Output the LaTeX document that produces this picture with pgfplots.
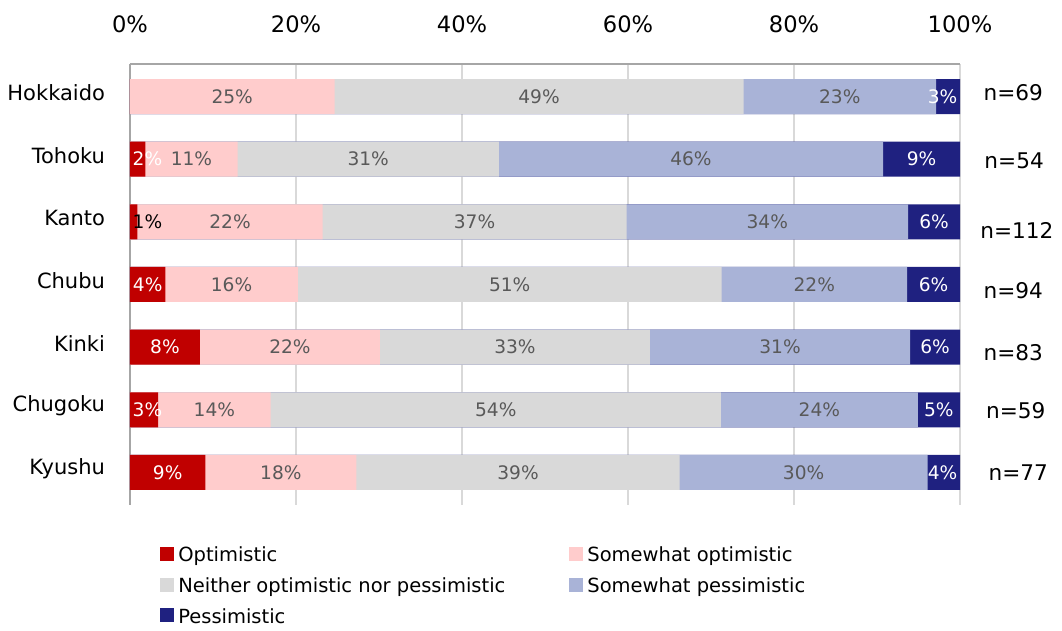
\documentclass[border=0pt]{standalone}
\usepackage{fontspec}
\setmainfont{DejaVu Sans}
\usepackage{pgfplots}
\usepackage{pgfplotstable}
\pgfplotsset{compat=1.18}

\definecolor{optred}{HTML}{C00000}
\definecolor{soptpink}{HTML}{FFCCCC}
\definecolor{neitgray}{HTML}{D9D9D9}
\definecolor{spesblue}{HTML}{A9B3D7}
\definecolor{pesnavy}{HTML}{1F2180}
\definecolor{labelgray}{HTML}{595959}
\definecolor{gridgray}{HTML}{D9D9D9}
\definecolor{axisgray}{HTML}{A6A6A6}

% Share of respondents (%) by region; n = number of respondents
% nx, ny: placement of the "n=" note to the right of each bar
\pgfplotstableread{
y region   opt   sopt  neit  spes  pes   n   nx     ny
6 Hokkaido 0.00  24.64 49.28 23.19 2.89  69  102.8   0.07
5 Tohoku   1.85  11.11 31.48 46.30 9.26  54  102.9  -0.03
4 Kanto    0.89  22.32 36.61 33.93 6.25  112 102.4  -0.13
3 Chubu    4.26  15.96 51.06 22.34 6.38  94  102.8  -0.10
2 Kinki    8.43  21.69 32.53 31.33 6.02  83  102.8  -0.08
1 Chugoku  3.39  13.56 54.24 23.73 5.08  59  103.1  -0.02
0 Kyushu   9.09  18.18 38.96 29.87 3.90  77  103.4   0.00
}\regions

\pgfplotsset{
  % each segment is drawn as a bar from 0 to its running total, back to front
  seg/.style={xbar, bar shift=0pt, fill=#1, draw=none},
  seglabel/.style={only marks, mark=none, forget plot,
    point meta=explicit,
    nodes near coords={\pgfmathprintnumber[fixed,precision=0]{\pgfplotspointmeta}\%},
    every node near coord/.append style={anchor=center, inner sep=0pt,
      font=\fontsize{9.3}{11}\selectfont, text=#1}},
}

\begin{document}
\begin{tikzpicture}
\begin{axis}[
  name=ax,
  scale only axis, width=415pt, height=220.5pt,
  bar width=17.5pt,
  xmin=0, xmax=100, ymin=-0.52, ymax=6.52,
  clip=false,
  axis x line*=top, axis y line*=left,
  x axis line style={draw=axisgray, line width=0.8pt},
  y axis line style={draw=axisgray, line width=0.8pt},
  xmajorgrids, grid style={draw=gridgray, line width=0.8pt},
  xtick={0,20,...,100},
  xticklabel={\pgfmathprintnumber{\tick}\%},
  xtick style={draw=none}, ytick style={draw=none},
  ytick={0,...,6},
  yticklabels={Kyushu,Chugoku,Kinki,Chubu,Kanto,Tohoku,Hokkaido},
  /pgf/number format/assume math mode=true,
  xticklabel style={font=\fontsize{11.3}{13}\selectfont, yshift=12pt},
  yticklabel style={font=\fontsize{10.5}{12}\selectfont, xshift=-9pt, yshift=2pt},
  legend columns=2,
  reverse legend,
  legend cell align=left,
  legend image code/.code={\fill[#1] (0pt,-2.5pt) rectangle (7pt,4.5pt);},
  legend style={draw=none, fill=none, at={(0.036,-0.085)}, anchor=north west,
    font=\fontsize{9.75}{11}\selectfont, inner sep=0pt, row sep=2.5pt,
    /tikz/every even column/.append style={column sep=30pt}},
]
\addplot[seg=pesnavy]
  table[x expr={\thisrow{opt}+\thisrow{sopt}+\thisrow{neit}+\thisrow{spes}+\thisrow{pes}}, y=y] {\regions};
\addlegendentry{Pessimistic}
\addplot[seg=spesblue]
  table[x expr={\thisrow{opt}+\thisrow{sopt}+\thisrow{neit}+\thisrow{spes}}, y=y] {\regions};
\addlegendentry{Somewhat pessimistic}
\addplot[seg=neitgray]
  table[x expr={\thisrow{opt}+\thisrow{sopt}+\thisrow{neit}}, y=y] {\regions};
\addlegendentry{Neither optimistic nor pessimistic}
\addplot[seg=soptpink]
  table[x expr={\thisrow{opt}+\thisrow{sopt}}, y=y] {\regions};
\addlegendentry{Somewhat optimistic}
\addplot[seg=optred]
  table[x=opt, y=y] {\regions};
\addlegendentry{Optimistic}

% value labels, centred in each segment
\addplot[seglabel=white, skip coords between index={0}{1}, skip coords between index={2}{3}]
  table[x expr={max(\thisrow{opt}/2,2.1)}, y=y, meta=opt] {\regions};
\addplot[seglabel=black, skip coords between index={0}{2}, skip coords between index={3}{7}]
  table[x expr={max(\thisrow{opt}/2,2.1)}, y=y, meta=opt] {\regions};
\addplot[seglabel=labelgray]
  table[x expr={\thisrow{opt}+\thisrow{sopt}/2}, y=y, meta=sopt] {\regions};
\addplot[seglabel=labelgray]
  table[x expr={\thisrow{opt}+\thisrow{sopt}+\thisrow{neit}/2}, y=y, meta=neit] {\regions};
\addplot[seglabel=labelgray]
  table[x expr={\thisrow{opt}+\thisrow{sopt}+\thisrow{neit}+\thisrow{spes}/2}, y=y, meta=spes] {\regions};
\addplot[seglabel=white]
  table[x expr={min(100-\thisrow{pes}/2,97.9)}, y=y, meta=pes] {\regions};

% sample sizes
\addplot[only marks, mark=none, forget plot,
  point meta=explicit symbolic,
  nodes near coords={n=\pgfplotspointmeta},
  every node near coord/.append style={anchor=west, inner xsep=0pt,
    font=\fontsize{10.8}{13}\selectfont, text=black}]
  table[x=nx, y expr={\thisrow{y}+\thisrow{ny}}, meta=n] {\regions};
\end{axis}
\path (ax.south west) ++(-65pt,-61.5pt) rectangle ([xshift=51pt,yshift=32pt]ax.north east);
\end{tikzpicture}
\end{document}
